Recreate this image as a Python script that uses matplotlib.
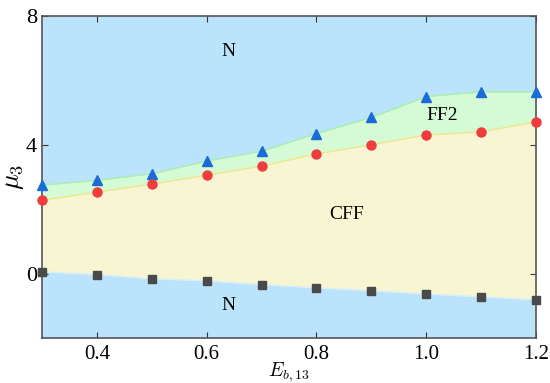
import matplotlib
matplotlib.use("Agg")
import matplotlib.pyplot as plt
import numpy as np

plt.rcParams['font.family'] = ['Liberation Serif', 'DejaVu Serif']
plt.rcParams['mathtext.fontset'] = 'cm'

# phase boundary data
E_b13 = [0.3, 0.4, 0.5, 0.6, 0.7, 0.8, 0.9, 1.0, 1.1, 1.2]
mu_ff2 = [2.75, 2.9, 3.1, 3.5, 3.8, 4.35, 4.85, 5.5, 5.65, 5.65]   # FF2 -> N (triangles)
mu_cff = [2.28, 2.53, 2.78, 3.06, 3.34, 3.72, 4.0, 4.31, 4.4, 4.72]  # CFF -> FF2 (circles)
mu_low = [0.06, -0.03, -0.16, -0.22, -0.34, -0.44, -0.53, -0.63, -0.72, -0.81]  # N -> CFF (squares)

x = np.array(E_b13)

fig = plt.figure(figsize=(5.5, 3.83), dpi=100)
ax = fig.add_axes([0.0764, 0.1175, 0.898, 0.8405])

ax.set_facecolor('#bbe4fc')
ax.fill_between(x, mu_cff, mu_ff2, color='#d4fad6', lw=0)
ax.plot(x, mu_ff2, color='#a9eeaa', lw=1)
ax.fill_between(x, mu_low, mu_cff, color='#f8f6d2', lw=0)
ax.plot(x, mu_cff, color='#f2e88a', lw=1)
ax.plot(x, mu_low, color='#d8f0f5', lw=1)

ax.plot(x, mu_ff2, '^', color='#1a6ad8', ms=7.5, clip_on=False, zorder=5)
ax.plot(x, mu_cff, 'o', color='#f03c3c', ms=6.5, clip_on=False, zorder=5)
ax.plot(x, mu_low, 's', color='#4a4a4a', ms=5.5, clip_on=False, zorder=5)

ax.text(0.64, 6.9, 'N', fontsize=14, ha='center', va='center')
ax.text(1.03, 4.9, 'FF2', fontsize=14, ha='center', va='center')
ax.text(0.855, 1.84, 'CFF', fontsize=14, ha='center', va='center')
ax.text(0.64, -1.0, 'N', fontsize=14, ha='center', va='center')

ax.set_xlim(0.3, 1.2)
ax.set_ylim(-2, 8)
ax.set_xticks([0.4, 0.6, 0.8, 1.0, 1.2])
ax.set_xticklabels(['0.4', '0.6', '0.8', '1.0', '1.2'])
ax.set_yticks([0, 4, 8])
ax.tick_params(direction='in', top=True, right=True, labelsize=16, length=4, color='#333333')
ax.tick_params(axis='x', labelsize=15, pad=5)
for s in ax.spines.values():
    s.set_color('#555555')
    s.set_linewidth(1.2)

ax.set_xlabel(r'$E_{b,13}$', fontsize=14, labelpad=-3)
ax.set_ylabel(r'$\mu_3$', fontsize=19, labelpad=0)

fig.savefig('out.png', dpi=100)
